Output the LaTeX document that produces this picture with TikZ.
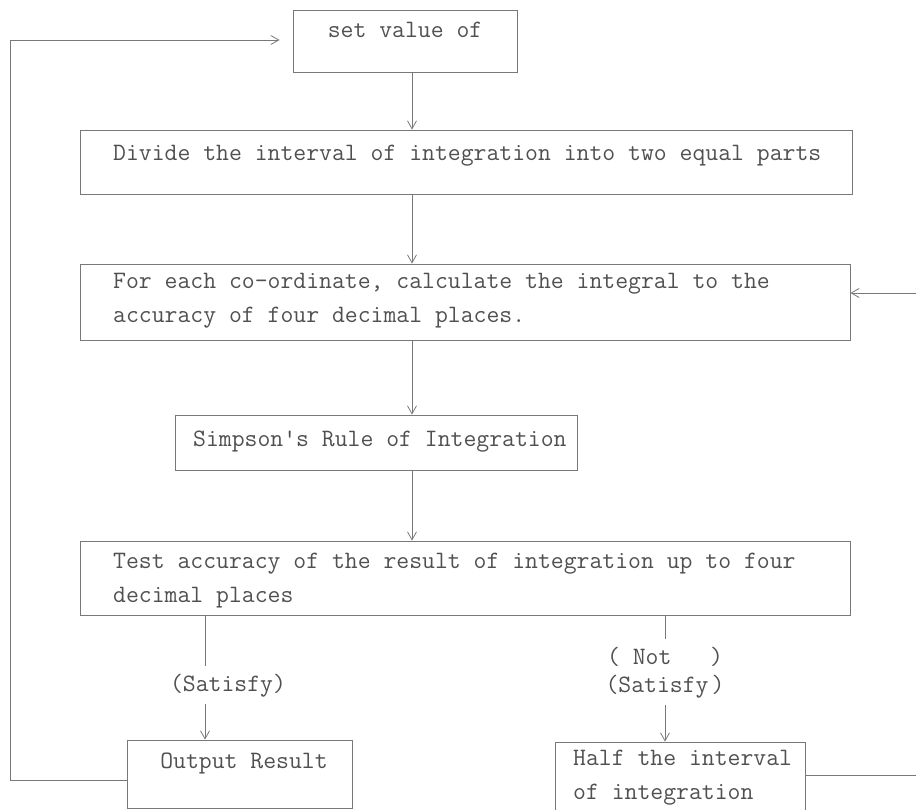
\documentclass[tikz,border=0pt]{standalone}
\usepackage{fontspec}
\usetikzlibrary{arrows.meta}
\definecolor{linegray}{RGB}{120,120,120}
\definecolor{textgray}{RGB}{80,80,80}
\begin{document}
\begin{tikzpicture}[x=1pt,y=-1pt,
  box/.style={draw=linegray, line width=0.8pt, inner sep=0pt, rectangle},
  txt/.style={text=textgray, inner sep=0pt, font=\ttfamily\fontsize{25}{34}\selectfont, align=left},
  arr/.style={draw=linegray, line width=0.8pt, -{Straight Barb[length=8pt,width=9pt]}},
  ln/.style={draw=linegray, line width=0.8pt}]
\useasboundingbox (0,0) rectangle (916,810);

% boxes
\node[box, minimum width=224pt, minimum height=62pt] (setbox)  at (405,41) {};
\node[box, minimum width=772pt, minimum height=64pt] (divbox)  at (466,162) {};
\node[box, minimum width=770pt, minimum height=76pt] (forbox)  at (465,302) {};
\node[box, minimum width=402pt, minimum height=55pt] (simpbox) at (376,442.5) {};
\node[box, minimum width=770pt, minimum height=74pt] (testbox) at (465,578) {};
\node[box, minimum width=225pt, minimum height=68pt] (outbox)  at (239.5,774) {};
\node[box, minimum width=250pt, minimum height=76pt] (halfbox) at (680,780) {};

% texts
\node[txt] (settxt) at (405,30) {set value of};
\node[txt, anchor=west] (divtxt) at (113,156) {Divide the interval of integration into two equal parts};
\node[txt, anchor=west] (fortxt) at (113,301) {For each co-ordinate, calculate the integral to the\\accuracy of four decimal places.};
\node[txt, anchor=west] (simptxt) at (193,442) {Simpson's Rule of Integration};
\node[txt, anchor=west] (testtxt) at (113,581) {Test accuracy of the result of integration up to four\\decimal places};
\node[txt] (sat1) at (228,686) {(Satisfy)};
\node[txt] (notlbl) at (665,657) {(\ Not\ \ \ )};
\node[txt] (sat2) at (665,687) {(Satisfy\kern3pt)};
\node[txt] (outtxt) at (244,763) {Output Result};
\node[txt, anchor=west] (halftxt) at (573,778) {Half the interval\\of integration};

% helper coordinates
\coordinate (spine) at (412,0);
\coordinate (lb) at (205,0);
\coordinate (rb) at (665,0);
\coordinate (lc1) at (10,780);
\coordinate (lc2) at (10,40);
\coordinate (rc1) at (935,775);
\coordinate (rc2) at (935,293);

% main flow
\draw[arr] (spine |- setbox.south) -- (spine |- divbox.north);
\draw[arr] (spine |- divbox.south) -- (spine |- forbox.north);
\draw[arr] (spine |- forbox.south) -- (spine |- simpbox.north);
\draw[arr] (spine |- simpbox.south) -- (spine |- testbox.north);

% satisfy branch
\draw[ln, shorten >=8pt] (lb |- testbox.south) -- (lb |- sat1.north);
\draw[arr, shorten <=6pt] (lb |- sat1.south) -- (lb |- outbox.north);

% not satisfy branch
\draw[ln, shorten >=8pt] (rb |- testbox.south) -- (rb |- notlbl.north);
\draw[arr, shorten <=6pt] (rb |- sat2.south) -- (rb |- halfbox.north);

% loops
\draw[arr, shorten >=13pt] (outbox.west |- lc1) -- (lc1) -- (lc2) -- (lc2 -| setbox.west);
\draw[arr] (halfbox.east |- rc1) -- (rc1) -- (rc2) -- (rc2 -| forbox.east);
\end{tikzpicture}
\end{document}
